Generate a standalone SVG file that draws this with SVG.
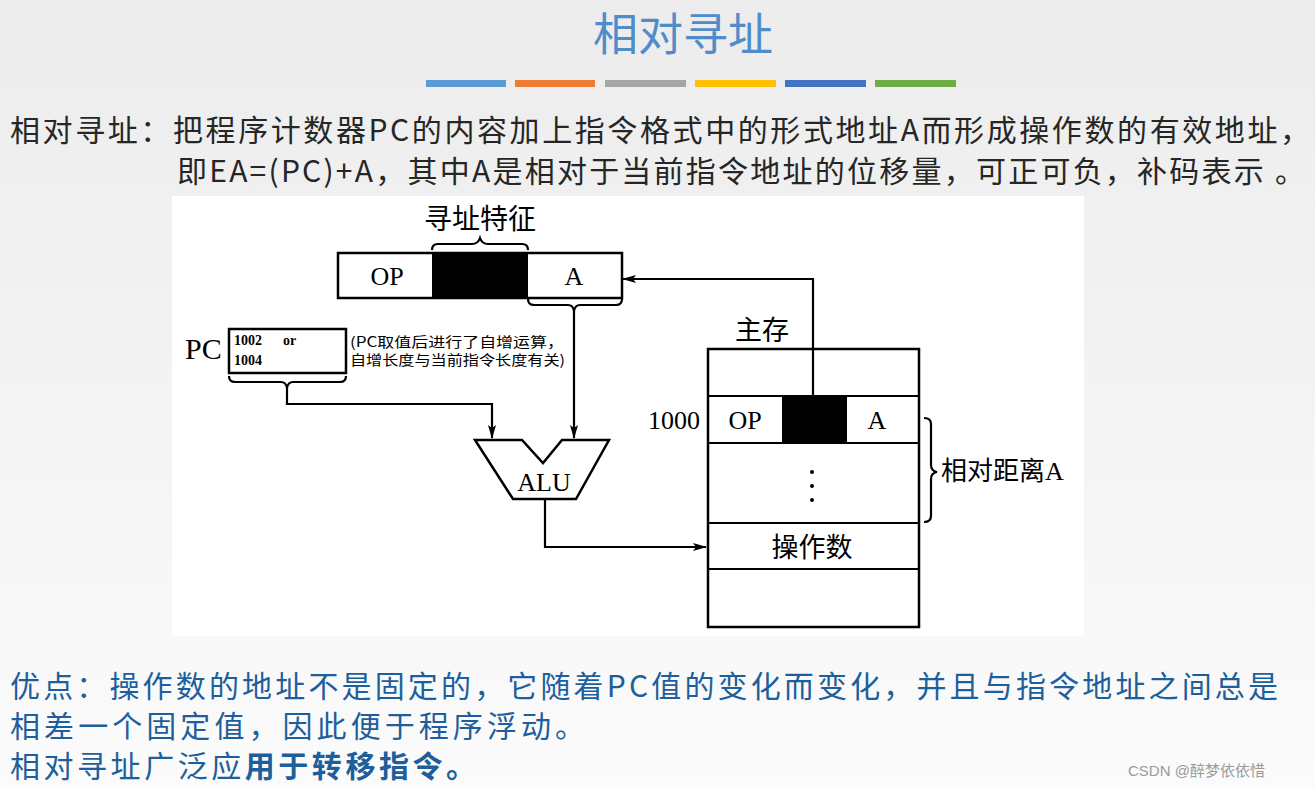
<svg xmlns="http://www.w3.org/2000/svg" width="1315" height="788" viewBox="0 0 1315 788">
<defs>
<linearGradient id="bg" x1="0" y1="0" x2="0" y2="1">
<stop offset="0" stop-color="#ececec"/>
<stop offset="1" stop-color="#fbfbfb"/>
</linearGradient>
<marker id="arr" markerWidth="14" markerHeight="8" refX="13" refY="4" orient="auto" markerUnits="userSpaceOnUse">
<path d="M0,0 L14,4 L0,8 L3,4 z" fill="#000"/>
</marker>
<style>
.hd{font-family:"Noto Sans CJK SC","Noto Sans",sans-serif;fill:#262626;font-size:30px}
.bl{font-family:"Noto Sans CJK SC","Noto Sans",sans-serif;fill:#1d5f9c;font-size:30px}
.ser{font-family:"Liberation Serif",serif;fill:#000}
.cjk{font-family:"Noto Sans CJK SC",sans-serif;fill:#000}
.box{fill:#fff;stroke:#000;stroke-width:2.5}
.ln{fill:none;stroke:#000;stroke-width:2.2}
.conn{fill:none;stroke:#000;stroke-width:2.2}
</style>
</defs>
<rect x="0" y="0" width="1315" height="788" fill="url(#bg)"/>

<g id="title">
<text x="683" y="51" text-anchor="middle" font-family="'Noto Sans CJK SC',sans-serif" font-size="45" fill="#4f8cc9">相对寻址</text>
<rect x="426" y="80" width="80" height="7" fill="#5b9bd5"/>
<rect x="515" y="80" width="80" height="7" fill="#ed7d31"/>
<rect x="605" y="80" width="81" height="7" fill="#a5a5a5"/>
<rect x="695" y="80" width="81" height="7" fill="#ffc000"/>
<rect x="785" y="80" width="81" height="7" fill="#4472c4"/>
<rect x="875" y="80" width="81" height="7" fill="#70ad47"/>
</g>

<g id="definition">
<text class="hd" x="10" y="141" textLength="1300" lengthAdjust="spacing">相对寻址：把程序计数器PC的内容加上指令格式中的形式地址A而形成操作数的有效地址，</text>
<text class="hd" x="177" y="182" textLength="1128" lengthAdjust="spacing">即EA=(PC)+A，其中A是相对于当前指令地址的位移量，可正可负，补码表示 。</text>
</g>

<rect id="panel" x="172" y="196" width="912" height="440" fill="#ffffff"/>

<g id="instruction">
<text class="cjk" x="480" y="229" text-anchor="middle" font-size="28">寻址特征</text>
<path class="ln" d="M432,250 Q432,244 438,244 L472,244 Q478,244 480,238 Q482,244 488,244 L522,244 Q528,244 528,250"/>
<rect class="box" x="338" y="253" width="284" height="45"/>
<rect x="432" y="253" width="96" height="45" fill="#000"/>
<text class="ser" x="387" y="285" text-anchor="middle" font-size="26">OP</text>
<text class="ser" x="574" y="285" text-anchor="middle" font-size="26">A</text>
<path class="ln" d="M528,299 Q528,305 534,305 L568,305 Q573,305 574,311 Q575,305 580,305 L616,305 Q622,305 622,299"/>
</g>

<g id="pc">
<text class="ser" x="185" y="359" font-size="30">PC</text>
<rect class="box" x="229" y="329" width="117" height="44"/>
<text class="ser" x="234" y="345" font-size="14" font-weight="bold">1002</text>
<text class="ser" x="283" y="345" font-size="14" font-weight="bold">or</text>
<text class="ser" x="234" y="365" font-size="14" font-weight="bold">1004</text>
<text class="cjk" x="350" y="347" font-size="14" textLength="214" lengthAdjust="spacingAndGlyphs">(PC取值后进行了自增运算，</text>
<text class="cjk" x="350" y="365" font-size="14" textLength="215" lengthAdjust="spacingAndGlyphs">自增长度与当前指令长度有关)</text>
<path class="ln" d="M229,376 Q229,382 235,382 L281,382 Q286,382 287,388 Q288,382 293,382 L340,382 Q346,382 346,376"/>
</g>

<g id="alu">
<polygon class="box" points="475,440 522,440 543,463 562,440 609,440 576,499 513,499"/>
<text class="ser" x="544" y="491" text-anchor="middle" font-size="26">ALU</text>
</g>

<g id="memory">
<text class="cjk" x="762" y="340" text-anchor="middle" font-size="27">主存</text>
<rect class="box" x="708" y="349" width="211" height="278"/>
<line class="ln" x1="708" y1="396" x2="919" y2="396"/>
<line class="ln" x1="708" y1="443" x2="919" y2="443"/>
<line class="ln" x1="708" y1="523" x2="919" y2="523"/>
<line class="ln" x1="708" y1="569" x2="919" y2="569"/>
<rect x="782" y="396" width="65" height="47" fill="#000"/>
<text class="ser" x="745" y="429" text-anchor="middle" font-size="26">OP</text>
<text class="ser" x="877" y="429" text-anchor="middle" font-size="26">A</text>
<text class="ser" x="700" y="429" text-anchor="end" font-size="26">1000</text>
<circle cx="812" cy="472" r="2" fill="#000"/>
<circle cx="812" cy="486" r="2" fill="#000"/>
<circle cx="812" cy="500" r="2" fill="#000"/>
<text class="cjk" x="812" y="557" text-anchor="middle" font-size="27">操作数</text>
<path class="ln" d="M924,418 Q931,418 931,424 L931,465 Q931,471 937,472 Q931,473 931,479 L931,516 Q931,522 924,522"/>
<text class="cjk" x="941" y="480" font-size="26">相对距离</text>
<text class="ser" x="1045" y="480" font-size="26">A</text>
</g>

<g id="connectors">
<path class="conn" d="M574,311 L574,438" marker-end="url(#arr)"/>
<path class="conn" d="M287,388 L287,404 L492,404 L492,438" marker-end="url(#arr)"/>
<path class="conn" d="M813,396 L813,279 L623,279" marker-end="url(#arr)"/>
<path class="conn" d="M545,499 L545,547 L706,547" marker-end="url(#arr)"/>
</g>

<g id="advantages">
<text class="bl" x="10" y="697" textLength="1268" lengthAdjust="spacing">优点：操作数的地址不是固定的，它随着PC值的变化而变化，并且与指令地址之间总是</text>
<text class="bl" x="10" y="737" textLength="575" lengthAdjust="spacing">相差一个固定值，因此便于程序浮动。</text>
<text class="bl" x="10" y="777" textLength="466" lengthAdjust="spacing">相对寻址广泛应<tspan font-weight="bold">用于转移指令。</tspan></text>
</g>

<text x="1128" y="776" font-family="'Liberation Sans','Noto Sans CJK SC',sans-serif" font-size="15" fill="#9a9a9a">CSDN @醉梦依依惜</text>
</svg>
